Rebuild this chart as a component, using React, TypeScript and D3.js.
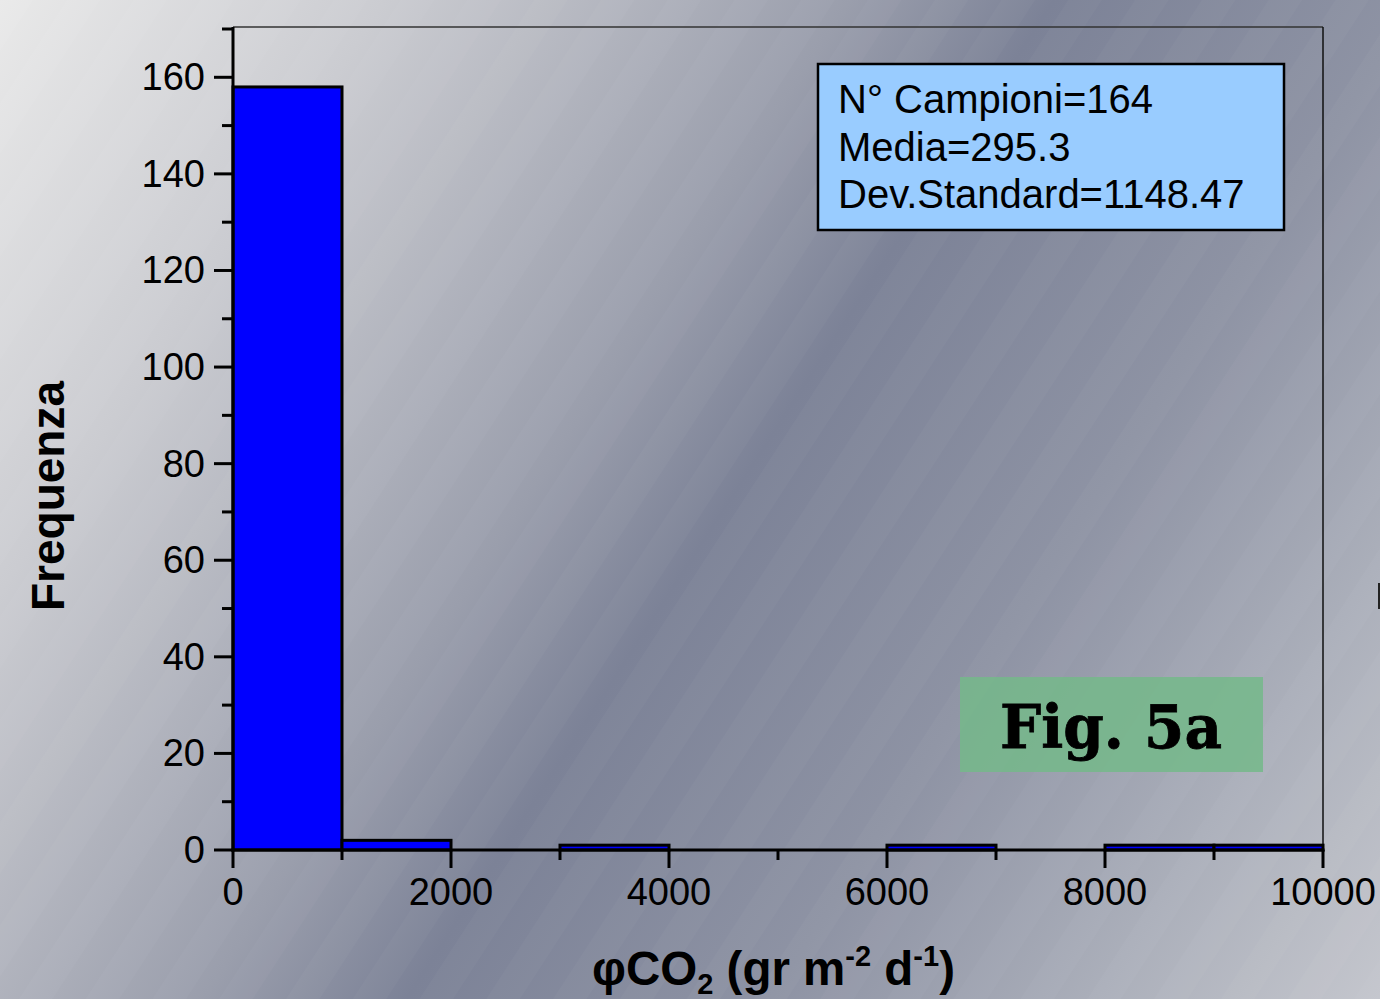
import React from "react";
import * as d3 from "d3";

const binStarts = [0, 1000, 2000, 3000, 4000, 5000, 6000, 7000, 8000, 9000];
const binCounts = [158, 2, 0, 1, 0, 0, 1, 0, 1, 1];
const binWidth = 1000;
const yMajorTicks = [0, 20, 40, 60, 80, 100, 120, 140, 160];
const yMinorTicks = [10, 30, 50, 70, 90, 110, 130, 150, 170];
const xMajorTicks = [0, 2000, 4000, 6000, 8000, 10000];
const xMinorTicks = [1000, 3000, 5000, 7000, 9000];
const statLines = ["N° Campioni=164", "Media=295.3", "Dev.Standard=1148.47"];
const figLabel = "Fig. 5a";

const W = 1380;
const H = 999;
const L = 233, R = 1323, T = 29, B = 850;

export default function App() {
  const x = d3.scaleLinear().domain([0, 10000]).range([L, R]);
  const y = d3.scaleLinear().domain([0, 170]).range([B, T]);
  const bins = binStarts.map((s, i) => ({ x0: s, x1: s + binWidth, n: binCounts[i] })).filter((b) => b.n > 0);
  const sans = "'Liberation Sans', Arial, sans-serif";

  return (
    <svg width={W} height={H} style={{ position: "absolute", left: 0, top: 0, display: "block" }} xmlns="http://www.w3.org/2000/svg">
      <defs>
        <linearGradient id="bg" gradientUnits="userSpaceOnUse" x1={0} y1={0} x2={1427} y2={925}>
          <stop offset="0" stopColor="#e9e9e9" />
          <stop offset="0.19" stopColor="#cbccd1" />
          <stop offset="0.42" stopColor="#9a9eac" />
          <stop offset="0.52" stopColor="#7c8297" />
          <stop offset="0.7" stopColor="#8e93a4" />
          <stop offset="0.86" stopColor="#abafba" />
          <stop offset="1" stopColor="#c4c6cd" />
        </linearGradient>
        <pattern id="stripes" patternUnits="userSpaceOnUse" width={56} height={56} patternTransform="rotate(33)">
          <rect x={0} y={0} width={28} height={56} fill="#ffffff" opacity={0.025} />
        </pattern>
      </defs>
      <rect x={0} y={0} width={W} height={H} fill="url(#bg)" />
      <rect x={0} y={0} width={W} height={H} fill="url(#stripes)" />

      {/* frame top & right */}
      <line x1={L} y1={27} x2={R} y2={27} stroke="#333" strokeWidth={1.5} />
      <line x1={R} y1={27} x2={R} y2={B} stroke="#111" strokeWidth={1.5} />

      {/* bars */}
      {bins.map((b, i) => (
        <rect key={i} x={x(b.x0)} y={y(b.n)} width={x(b.x1) - x(b.x0)} height={y(0) - y(b.n)}
          fill="#0000ff" stroke="#000" strokeWidth={3} />
      ))}

      {/* y axis */}
      <line x1={L} y1={27} x2={L} y2={B + 1.5} stroke="#000" strokeWidth={3} />
      {yMajorTicks.map((t) => (
        <g key={"ym" + t}>
          <line x1={214} x2={L} y1={y(t)} y2={y(t)} stroke="#000" strokeWidth={3} />
          <text x={205} y={y(t) + 13} textAnchor="end" fontFamily={sans} fontSize={38} fill="#000">{t}</text>
        </g>
      ))}
      {yMinorTicks.map((t) => (
        <line key={"yn" + t} x1={222} x2={L} y1={y(t)} y2={y(t)} stroke="#000" strokeWidth={3} />
      ))}

      {/* x axis */}
      <line x1={L - 1.5} y1={B} x2={R + 1.5} y2={B} stroke="#000" strokeWidth={3} />
      {xMajorTicks.map((t) => (
        <g key={"xm" + t}>
          <line x1={x(t)} x2={x(t)} y1={B} y2={868} stroke="#000" strokeWidth={3} />
          <text x={x(t)} y={905} textAnchor="middle" fontFamily={sans} fontSize={38} fill="#000">{t}</text>
        </g>
      ))}
      {xMinorTicks.map((t) => (
        <line key={"xn" + t} x1={x(t)} x2={x(t)} y1={B} y2={860} stroke="#000" strokeWidth={3} />
      ))}

      {/* axis titles */}
      <text transform="translate(64,496) rotate(-90)" textAnchor="middle" fontFamily={sans} fontWeight="bold" fontSize={46} fill="#000">Frequenza</text>
      <text x={592} y={985} fontFamily={sans} fontWeight="bold" fontSize={47.5} fill="#000">
        φCO<tspan dy={9} fontSize={29}>2</tspan>
        <tspan dy={-9}> (gr m</tspan>
        <tspan dy={-19} fontSize={29}>-2</tspan>
        <tspan dy={19}> d</tspan>
        <tspan dy={-19} fontSize={29}>-1</tspan>
        <tspan dy={19}>)</tspan>
      </text>

      {/* stats box */}
      <rect x={818} y={64} width={466} height={166} fill="#99ccff" stroke="#000" strokeWidth={2.5} />
      {statLines.map((s, i) => (
        <text key={i} x={838} y={113 + i * 47.5} fontFamily={sans} fontSize={40} fill="#000">{s}</text>
      ))}

      {/* fig label */}
      <rect x={960} y={677} width={303} height={95} fill="#74b98a" opacity={0.85} />
      <text x={1000} y={748} fontFamily="'DejaVu Serif', serif" fontWeight="bold" fontSize={60} textLength={222} lengthAdjust="spacingAndGlyphs" fill="#000" stroke="#000" strokeWidth={0.8}>{figLabel}</text>

      {/* edge mark */}
      <rect x={1378} y={583} width={2} height={26} fill="#222" />
    </svg>
  );
}
